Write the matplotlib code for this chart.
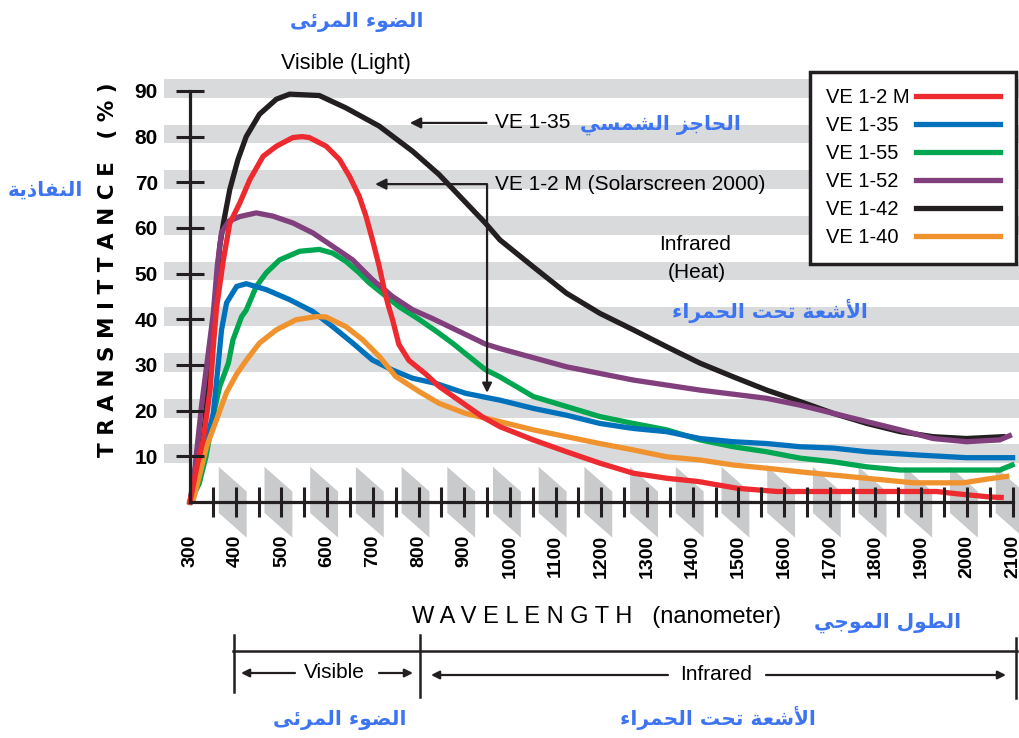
import numpy as np
import matplotlib
matplotlib.use('Agg')
from matplotlib import pyplot as plt
from matplotlib.lines import Line2D

# Datos (longitud de onda nm, transmitancia %)
series_labels = ['VE 1-2 M', 'VE 1-35', 'VE 1-55', 'VE 1-52', 'VE 1-42', 'VE 1-40']
series_colors = ['#ec2a30', '#0071bb', '#00a650', '#823f7d', '#231f20', '#f0932f']

nm_red = [300, 315, 329, 344, 351, 358, 373, 387, 409, 431, 460, 489, 525, 545, 561, 598, 627, 649,
          670, 685, 699, 714, 725, 734, 743, 757, 779, 816, 845, 939, 978, 1051, 1124, 1197, 1270,
          1343, 1411, 1498, 1585, 1934, 1978, 2050, 2075]
t_red = [0, 7.7, 13.6, 24.6, 34, 42.5, 53, 61, 65.5, 70.6, 75.7, 77.9, 79.8, 80, 79.8, 77.9, 75, 71.3,
         67, 62.6, 57.5, 51.6, 46.5, 43, 40, 34.5, 31, 28, 25.3, 18.7, 16.5, 13.6, 11, 8.5, 6.3,
         5.2, 4.5, 3, 2.3, 2.3, 1.8, 1.1, 1.0]

nm_blue = [300, 320, 333, 351, 362, 369, 380, 402, 423, 467, 518, 569, 612, 656, 699, 743, 787, 837,
           903, 978, 1051, 1124, 1197, 1270, 1343, 1416, 1489, 1562, 1635, 1708, 1781, 1890, 1999,
           2100]
t_blue = [0, 6, 12.1, 19.4, 30.4, 37.7, 43.6, 47.2, 47.8, 46.5, 44.3, 41.7, 38.4, 34.8, 31.1, 28.9,
          27.1, 26, 23.8, 22.3, 20.5, 19, 17.2, 16.1, 15.4, 13.9, 13.2, 12.8, 12.1, 11.8, 11, 10.3,
          9.7, 9.7]

nm_green = [300, 320, 335, 347, 355, 365, 384, 394, 413, 423, 445, 467, 496, 540, 583, 612, 641, 670,
            692, 757, 801, 840, 874, 946, 978, 1051, 1124, 1197, 1270, 1343, 1416, 1489, 1562, 1635,
            1708, 1781, 1854, 2072, 2099]
t_green = [0, 4, 10, 16.5, 20.9, 25.3, 30.4, 35.5, 40.6, 42, 47.2, 50.2, 53, 54.9, 55.3, 54.5, 52.7,
           50.2, 48, 42.8, 40, 37.3, 34.8, 29, 27.4, 23.1, 20.9, 18.7, 17.2, 15.8, 13.6, 12.1, 11,
           9.6, 8.8, 7.7, 7, 7, 8.1]

nm_purple = [300, 311, 325, 340, 351, 360, 369, 385, 409, 445, 481, 525, 569, 612, 656, 699, 743, 787,
             830, 946, 978, 1124, 1270, 1416, 1562, 1635, 1708, 1781, 1854, 1926, 1999, 2072, 2093]
t_purple = [0, 7.7, 20.9, 32.6, 41.4, 52, 59, 61.5, 62.5, 63.3, 62.6, 61.1, 58.9, 56, 53, 48.7, 45,
            42.1, 40.2, 34.6, 33.6, 29.6, 26.7, 24.5, 22.7, 21.2, 19.4, 17.6, 15.8, 13.9, 13.2,
            13.6, 14.5]

nm_black = [300, 330, 345, 358, 365, 373, 387, 405, 423, 452, 489, 518, 583, 641, 714, 787, 845, 946,
            978, 1051, 1124, 1197, 1270, 1343, 1416, 1489, 1562, 1635, 1708, 1781, 1854, 1926, 1999,
            2079]
t_black = [0, 15, 30, 47, 56, 61, 68.4, 75, 80, 84.9, 88.2, 89.3, 89, 86.3, 82.3, 76.8, 71.7, 61.1,
           57.4, 51.5, 45.7, 41.3, 37.7, 34, 30.4, 27.4, 24.5, 22, 19.4, 17.2, 15.4, 14.3, 13.9,
           14.3]

nm_orange = [300, 307, 322, 336, 358, 380, 402, 423, 452, 489, 532, 576, 598, 641, 678, 714, 750, 801,
             845, 903, 978, 1051, 1124, 1197, 1270, 1343, 1416, 1489, 1562, 1635, 1708, 1883, 1992,
             2043, 2087]
t_orange = [0, 0.4, 6.3, 12.1, 18, 24, 28, 31, 34.8, 37.7, 39.9, 40.6, 40.5, 38.4, 35.5, 31.9, 27.5,
            24.2, 21.6, 19.4, 17.6, 15.8, 14.3, 12.8, 11.4, 9.9, 9.2, 8.1, 7.4, 6.6, 5.9, 4.2, 4.2,
            5, 5.6]

x_ticks = list(range(300, 2101, 100))
y_ticks = list(range(10, 91, 10))

AR_BLUE = '#3d74f2'

# Formas de presentacion arabes (aislada, final, inicial, media)
FORMS = {
    'ا': ('\ufe8d', '\ufe8e'), 'أ': ('\ufe83', '\ufe84'), 'ء': ('\ufe80',),
    'ة': ('\ufe93', '\ufe94'), 'ذ': ('\ufeab', '\ufeac'), 'ر': ('\ufead', '\ufeae'),
    'ز': ('\ufeaf', '\ufeb0'), 'و': ('\ufeed', '\ufeee'), 'ى': ('\ufeef', '\ufef0'),
    'ت': ('\ufe95', '\ufe96', '\ufe97', '\ufe98'), 'ج': ('\ufe9d', '\ufe9e', '\ufe9f', '\ufea0'),
    'ح': ('\ufea1', '\ufea2', '\ufea3', '\ufea4'), 'س': ('\ufeb1', '\ufeb2', '\ufeb3', '\ufeb4'),
    'ش': ('\ufeb5', '\ufeb6', '\ufeb7', '\ufeb8'), 'ض': ('\ufebd', '\ufebe', '\ufebf', '\ufec0'),
    'ط': ('\ufec1', '\ufec2', '\ufec3', '\ufec4'), 'ع': ('\ufec9', '\ufeca', '\ufecb', '\ufecc'),
    'ف': ('\ufed1', '\ufed2', '\ufed3', '\ufed4'), 'ل': ('\ufedd', '\ufede', '\ufedf', '\ufee0'),
    'م': ('\ufee1', '\ufee2', '\ufee3', '\ufee4'), 'ن': ('\ufee5', '\ufee6', '\ufee7', '\ufee8'),
    'ي': ('\ufef1', '\ufef2', '\ufef3', '\ufef4'), 'ئ': ('\ufe89', '\ufe8a', '\ufe8b', '\ufe8c'),
}
LAM_ALEF = {'ا': ('\ufefb', '\ufefc'), 'أ': ('\ufef7', '\ufef8')}


def shape(txt):
    toks = []
    i = 0
    while i < len(txt):
        c = txt[i]
        if c == 'ل' and i + 1 < len(txt) and txt[i + 1] in LAM_ALEF:
            toks.append(LAM_ALEF[txt[i + 1]])
            i += 2
        else:
            toks.append(FORMS.get(c, (c,)))
            i += 1
    res = []
    for k, f in enumerate(toks):
        prev = toks[k - 1] if k > 0 else None
        nxt = toks[k + 1] if k + 1 < len(toks) else None
        jp = prev is not None and len(prev) == 4 and len(f) >= 2
        jn = len(f) == 4 and nxt is not None and len(nxt) >= 2
        if jp and jn:
            res.append(f[3])
        elif jp:
            res.append(f[1])
        elif jn:
            res.append(f[2])
        else:
            res.append(f[0])
    return ''.join(reversed(res))


FONT = 'Liberation Sans'
AR_FONT = ['DejaVu Sans']

fig = plt.figure(figsize=(10.2, 7.38), dpi=100)
W, H = 1020, 738
ax = fig.add_axes([164 / W, (H - 540) / H, (W - 164) / W, (540 - 72) / H])
ax.set_xlim(243.1, 2116.2)
ax.set_ylim(-8.32, 94.15)

# bandas grises
for v in y_ticks:
    ax.axhspan(v - 1.5, v + 2.6, color='#d9dadc', lw=0, zorder=0)

# dientes de sierra bajo el eje
for s in np.arange(363, 2100, 100):
    ax.fill([s, s + 61, s + 61, s], [7.7, 2.3, -7.8, -2.4], color='#c9cacc', lw=0, zorder=0.5)

curves = [(nm_black, t_black, 4), (nm_green, t_green, 2), (nm_purple, t_purple, 3),
          (nm_blue, t_blue, 1), (nm_orange, t_orange, 5), (nm_red, t_red, 0)]
for xs, ys, k in curves:
    ax.plot(xs, ys, color=series_colors[k], lw=3.8, zorder=2)

for sp in ['top', 'right']:
    ax.spines[sp].set_visible(False)
ax.spines['left'].set_position(('data', 300))
ax.spines['left'].set_bounds(0, 90)
ax.spines['bottom'].set_position(('data', 0))
ax.spines['bottom'].set_bounds(300, 2100)
for sp in ['left', 'bottom']:
    ax.spines[sp].set_linewidth(2.3)
    ax.spines[sp].set_color('#231f20')
    ax.spines[sp].set_zorder(3)
ax.set_axisbelow(False)

ax.set_xticks(x_ticks)
ax.set_xticks(np.arange(350, 2100, 100), minor=True)
ax.set_xticklabels([str(v) for v in x_ticks], rotation=90, fontfamily=FONT,
                   fontweight='bold', fontsize=14)
ax.set_yticks(y_ticks)
ax.set_yticklabels([str(v) for v in y_ticks], fontfamily=FONT, fontweight='bold', fontsize=15)
ax.tick_params(axis='x', which='both', direction='inout', length=21, width=2.2,
               color='#231f20', pad=13.3)
ax.tick_params(axis='y', direction='inout', length=19.5, width=2.2, color='#231f20', pad=13.3)
ax.xaxis.get_major_ticks()[0].tick1line.set_visible(False)

# flechas de anotacion
ax.annotate('VE 1-35', xy=(781, 83), xytext=(967, 83), ha='left', va='center',
            fontfamily=FONT, fontsize=15,
            arrowprops=dict(arrowstyle='-|>', color='#231f20', lw=1.6, mutation_scale=16,
                            shrinkA=4, shrinkB=0))
ax.annotate('VE 1-2 M (Solarscreen 2000)', xy=(705, 69.6), xytext=(967, 69.6), ha='left',
            va='center', fontfamily=FONT, fontsize=15,
            arrowprops=dict(arrowstyle='-|>', color='#231f20', lw=1.6, mutation_scale=16,
                            shrinkA=4, shrinkB=0))
ax.annotate('', xy=(950, 23.9), xytext=(950, 69.6),
            arrowprops=dict(arrowstyle='-|>', color='#231f20', lw=1.6, mutation_scale=14,
                            shrinkA=0, shrinkB=0))

# leyenda
handles = [Line2D([0], [0], color=c, lw=3.8) for c in series_colors]
leg = ax.legend(handles, series_labels, loc='upper left', bbox_to_anchor=(810 / W, 1 - 72 / H),
                bbox_transform=fig.transFigure, borderaxespad=0, markerfirst=False,
                frameon=True, fancybox=False, framealpha=1, edgecolor='#231f20',
                prop={'family': FONT, 'size': 14.5}, handlelength=4.2, handletextpad=0.3,
                borderpad=0.8, labelspacing=0.45)
leg.get_frame().set_linewidth(2.5)
leg.set_zorder(5)

# textos alineados a la izquierda dentro de la leyenda
fig.canvas.draw()
rend = fig.canvas.get_renderer()
tw = [t.get_window_extent(rend).width for t in leg.get_texts()]
col = leg._legend_handle_box.get_children()[0]
for row, w in zip(col.get_children(), tw):
    row.sep += (max(tw) - w) * 72 / fig.dpi

# capa de decoracion en pixeles
ov = fig.add_axes([0, 0, 1, 1])
ov.set_xlim(0, W)
ov.set_ylim(H, 0)
ov.axis('off')
ov.patch.set_alpha(0)

k = '#231f20'
ov.text(346, 63, 'Visible (Light)', ha='center', va='center', fontfamily=FONT, fontsize=15.5)
ov.text(695, 245, 'Infrared', ha='center', va='center', fontfamily=FONT, fontsize=15)
ov.text(697, 272, '(Heat)', ha='center', va='center', fontfamily=FONT, fontsize=15)
ov.text(108, 270, 'T R A N S M I T T A N C E   ( % )', rotation=90, ha='center', va='center',
        fontfamily='DejaVu Sans', fontweight='bold', fontsize=15.5)
ov.text(597, 617, 'W A V E L E N G T H   (nanometer)', ha='center', va='center',
        fontfamily=FONT, fontsize=17)

ar = dict(ha='center', va='center', fontfamily=AR_FONT, fontweight='bold', fontsize=14.5,
          color=AR_BLUE)
ov.text(357, 22, shape('الضوء المرئى'), **ar)
ov.text(660, 125, shape('الحاجز الشمسي'), **ar)
ov.text(45, 190, shape('النفاذية'), **ar)
ov.text(770, 311, shape('الأشعة تحت الحمراء'), **ar)
ov.text(888, 623, shape('الطول الموجي'), **ar)
ov.text(340, 720, shape('الضوء المرئى'), **ar)
ov.text(718, 718, shape('الأشعة تحت الحمراء'), **ar)

# corchete inferior
ov.plot([233, 1017], [651, 651], color=k, lw=1.8)
ov.plot([234, 234], [635, 692], color=k, lw=1.8)
ov.plot([420, 420], [635, 697], color=k, lw=1.8)
ov.plot([1016, 1016], [638, 698], color=k, lw=1.8)
ov.text(334, 673, 'Visible', ha='center', va='center', fontfamily=FONT, fontsize=15)
ov.text(716, 675, 'Infrared', ha='center', va='center', fontfamily=FONT, fontsize=15)
aprops = dict(arrowstyle='-|>', color=k, lw=1.6, mutation_scale=12, shrinkA=0, shrinkB=0)
ov.annotate('', xy=(241, 673), xytext=(295, 673), arrowprops=aprops)
ov.annotate('', xy=(413, 673), xytext=(379, 673), arrowprops=aprops)
ov.annotate('', xy=(431, 675), xytext=(668, 675), arrowprops=aprops)
ov.annotate('', xy=(1006, 675), xytext=(766, 675), arrowprops=aprops)

fig.savefig('out.png', dpi=100)
